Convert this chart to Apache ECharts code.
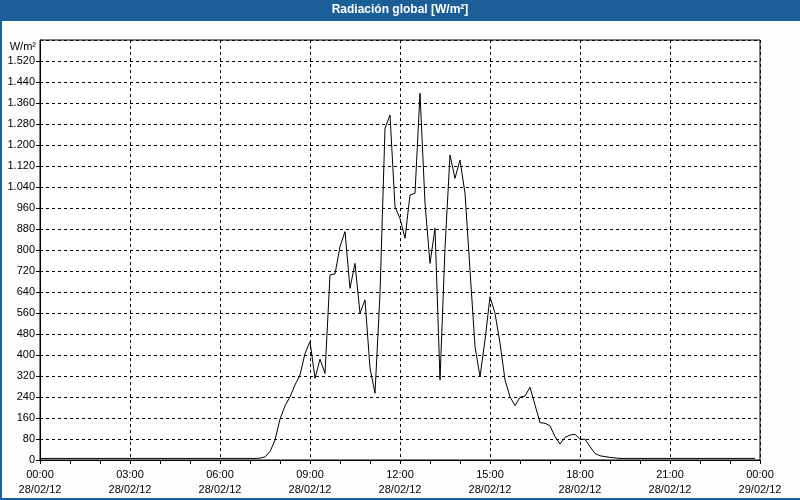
<!DOCTYPE html>
<html>
<head>
<meta charset="utf-8">
<script src="https://cdn.jsdelivr.net/npm/echarts@6/dist/echarts.min.js"></script>
<style>
html,body{margin:0;padding:0;background:#fcfdfc;}
#chart{width:800px;height:500px;}
</style>
</head>
<body>
<div id="chart"></div>
<script>
// 10-minute samples from 28/02/12 00:00 to 23:50
const stepMinutes = 10;
const radiation = [
  6,6,6,6,6,6,6,6,6,6,6,6,6,6,6,6,6,6,6,6,6,6,6,6,6,6,6,6,6,6,6,6,6,6,6,6,6,6,6,6,6,6,6,6,
  7,12,32,76,156,206,241,286,324,406,451,311,384,330,705,709,813,870,654,749,559,610,350,254,
  635,1264,1314,965,920,845,1010,1016,1397,978,749,883,305,807,1162,1073,1143,1016,724,432,
  317,457,622,559,445,305,241,207,239,244,277,210,142,140,130,89,61,86,95,98,79,79,51,25,16,13,10,8,
  6,6,6,6,6,6,6,6,6,6,6,6,6,6,6,6,6,6,6,6,6,6,6,6,6,6,6,6
];
const xTickLabels = [
  '00:00\n28/02/12','03:00\n28/02/12','06:00\n28/02/12','09:00\n28/02/12',
  '12:00\n28/02/12','15:00\n28/02/12','18:00\n28/02/12','21:00\n28/02/12','00:00\n29/02/12'
];
const yUnit = 'W/m²';
const titleText = 'Radiación global [W/m²]';

const seriesData = radiation.map((v, i) => [i * stepMinutes / 60, v]);
const font = 'Liberation Sans';

function fmtThousands(v) {
  return String(v).replace(/\B(?=(\d{3})+(?!\d))/g, '.');
}

const chart = echarts.init(document.getElementById('chart'), null, {renderer: 'canvas'});
chart.setOption({
  backgroundColor: '#fcfdfc',
  animation: false,
  title: {
    text: titleText,
    left: 'center',
    top: 4,
    padding: 0,
    textStyle: {color: '#ffffff', fontWeight: 'bold', fontSize: 12, fontFamily: font}
  },
  graphic: [
    {type: 'rect', shape: {x: 0, y: 0, width: 800, height: 21}, style: {fill: '#1c5f98'}, z: -10},
    {type: 'rect', shape: {x: 0, y: 0, width: 2, height: 500}, style: {fill: '#1c5f98'}, z: -10},
    {type: 'rect', shape: {x: 0, y: 498, width: 800, height: 2}, style: {fill: '#1c5f98'}, z: -10},
    {type: 'rect', shape: {x: 40, y: 40, width: 720, height: 420}, style: {fill: '#ffffff'}, z: -9},
    {type: 'text', x: 36, y: 47, style: {text: yUnit, fill: '#000', font: '11px ' + font, textAlign: 'right', textVerticalAlign: 'middle'}}
  ],
  grid: {left: 40, right: 40, top: 40, bottom: 40, show: true, borderColor: '#000', borderWidth: 1, backgroundColor: 'transparent'},
  xAxis: {
    type: 'value',
    min: 0, max: 24, interval: 3,
    axisLine: {show: true, lineStyle: {color: '#000', width: 1}},
    axisTick: {show: true, length: 4, inside: false, lineStyle: {color: '#000'}},
    minorTick: {show: true, splitNumber: 3, length: 4, lineStyle: {color: '#000'}},
    minorSplitLine: {show: false},
    splitLine: {show: true, lineStyle: {color: '#000', type: [3, 3], width: 1}},
    axisLabel: {
      color: '#000', fontSize: 11, fontFamily: font, lineHeight: 15, margin: 7,
      showMinLabel: true, showMaxLabel: true,
      formatter: v => xTickLabels[Math.round(v / 3)]
    }
  },
  yAxis: {
    type: 'value',
    min: 0, max: 1600, interval: 80,
    axisLine: {show: true, lineStyle: {color: '#000', width: 1}},
    axisTick: {show: true, length: 4, lineStyle: {color: '#000'}},
    splitLine: {show: true, lineStyle: {color: '#000', type: [3, 3], width: 1}},
    axisLabel: {
      color: '#000', fontSize: 11, fontFamily: font, margin: 5,
      showMaxLabel: false,
      formatter: v => v >= 1600 ? '' : fmtThousands(v)
    }
  },
  series: [{
    type: 'line',
    data: seriesData,
    showSymbol: false,
    symbol: 'none',
    smooth: false,
    lineStyle: {color: '#000', width: 1},
    z: 5
  }]
});
</script>
</body>
</html>
